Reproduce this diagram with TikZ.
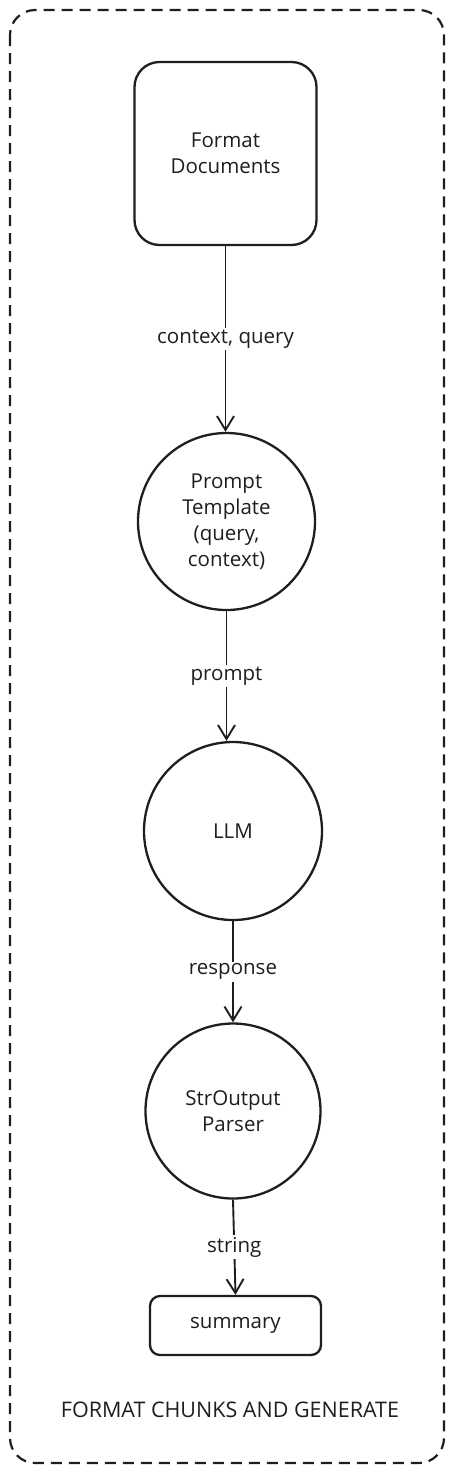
\documentclass[tikz,border=0pt]{standalone}
\usepackage{fontspec}
\setmainfont{Open Sans}
\usetikzlibrary{arrows.meta}
\definecolor{ink}{HTML}{1E1E1E}
\begin{document}
\begin{tikzpicture}[x=1pt,y=-1pt,
  every node/.style={font=\fontsize{20.5}{26}\selectfont, text=ink, align=center},
  stepbox/.style={draw=ink, line width=2.3pt, fill=white, inner sep=0pt},
  stepcirc/.style={stepbox, circle},
  flow/.style={draw=ink, line width=1.9pt, -{Straight Barb[length=14pt,width=17pt,line width=1.9pt]}},
  lbl/.style={fill=white, inner sep=2pt}
]
\useasboundingbox (0,0) rectangle (454,1473);
\draw[ink, line width=2.2pt, dash pattern=on 11pt off 7pt, rounded corners=25pt] (10,10) rectangle (444,1463);

\node[stepbox, rounded corners=25pt, minimum width=182pt, minimum height=183pt] (fd) at (225.5,153.5) {Format\\Documents};
\node[stepcirc, minimum size=177pt] (pt) at (226.5,521.5) {Prompt\\Template\\(query,\\context)};
\node[stepcirc, minimum size=178pt] (llm) at (233,831) {LLM};
\node[stepcirc, minimum size=175pt] (sop) at (233,1111) {StrOutput\\Parser};
\node[stepbox, rounded corners=10pt, minimum width=171pt, minimum height=59pt] (sum) at (235.5,1325.5) {summary};
\node[font=\fontsize{21.5}{26}\selectfont] (title) at (230,1410) {FORMAT CHUNKS AND GENERATE};

\draw[flow] (fd.south) -- node[lbl] {context, query} (fd.south |- pt.north);
\draw[flow] (pt.south) -- node[lbl] {prompt} (pt.south |- llm.north);
\draw[flow] (llm.south) -- node[lbl] {response} (llm.south |- sop.north);
\draw[flow] (sop.south) -- node[lbl] {string} (sum.north);
\end{tikzpicture}
\end{document}
